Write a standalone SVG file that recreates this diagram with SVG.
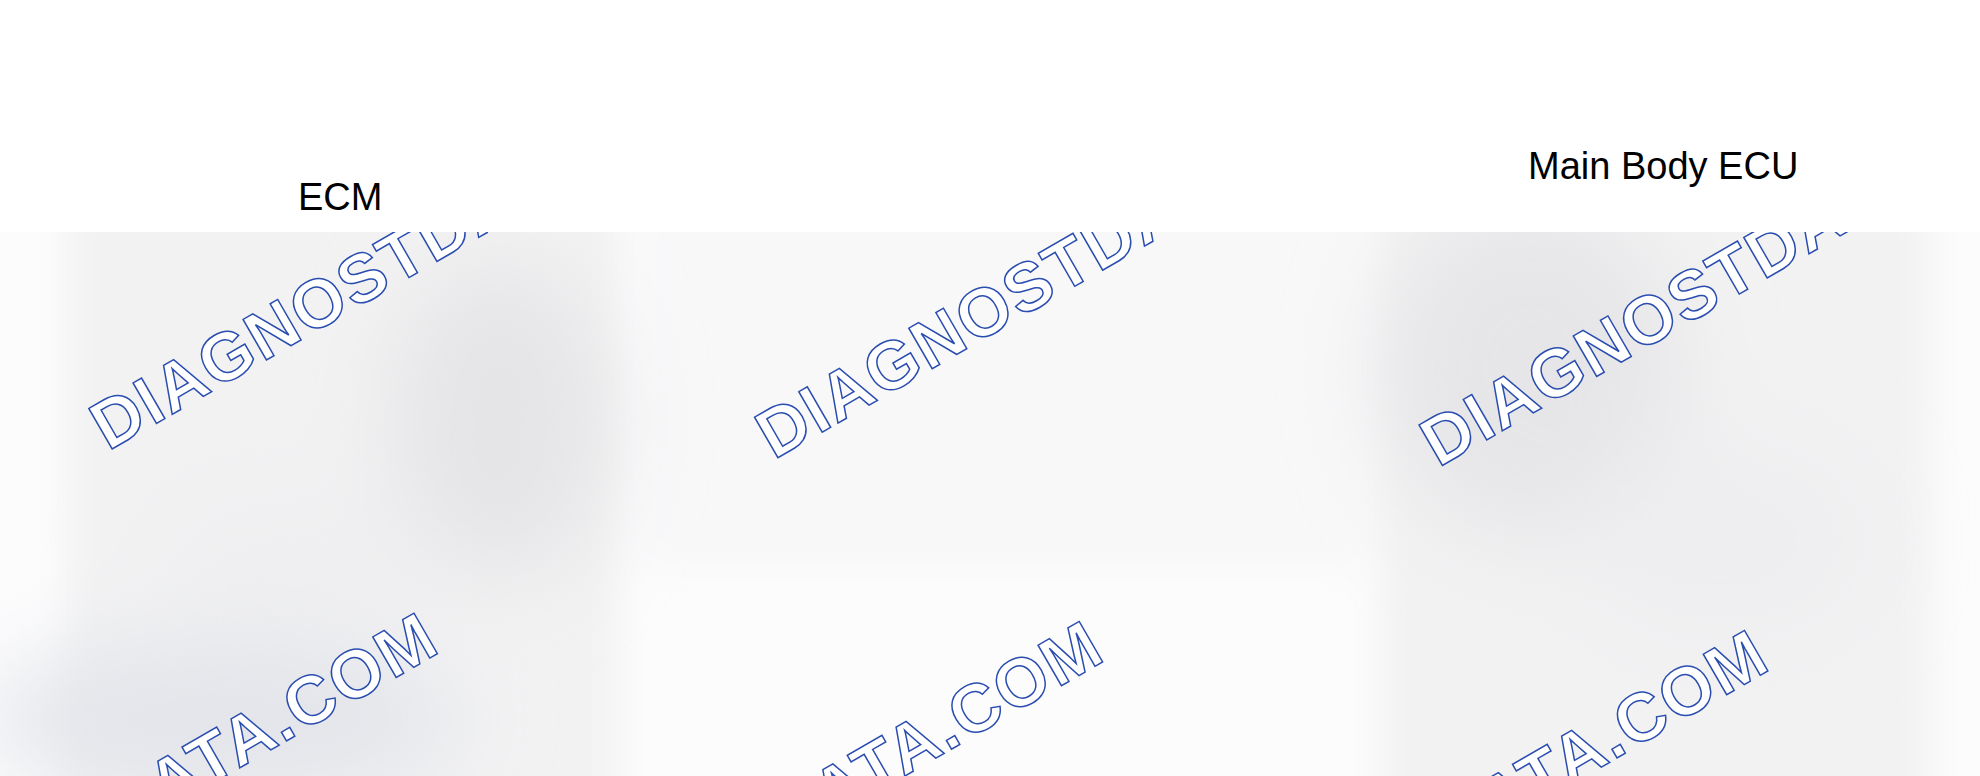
<svg xmlns="http://www.w3.org/2000/svg" width="1980" height="776" viewBox="0 0 1980 776">
  <defs>
    <filter id="blurEdge" x="-20%" y="-20%" width="140%" height="140%">
      <feGaussianBlur stdDeviation="18"/>
    </filter>
    <filter id="blurSoft" x="-50%" y="-50%" width="200%" height="200%">
      <feGaussianBlur stdDeviation="45"/>
    </filter>
  </defs>
  <style>
    .label { font-family: "Liberation Sans", Arial, sans-serif; font-size: 38px; fill: #000000; }
    .wm { font-family: "Liberation Sans", Arial, sans-serif; font-weight: bold; font-size: 68px; letter-spacing: 2px; fill: #ffffff; stroke: #2a4db0; stroke-width: 1.5px; }
  </style>

  <rect x="0" y="0" width="1980" height="776" fill="#ffffff"/>

  <g id="background">
    <rect x="0" y="232" width="1980" height="544" fill="#fcfcfd"/>
    <g filter="url(#blurEdge)">
      <rect x="66" y="200" width="552" height="620" fill="#f2f2f3"/>
      <rect x="1380" y="200" width="552" height="620" fill="#f2f2f3"/>
      <rect x="640" y="200" width="730" height="370" fill="#f8f8f9"/>
    </g>
    <g filter="url(#blurSoft)">
      <ellipse cx="500" cy="420" rx="110" ry="160" fill="#e5e5e7"/>
      <ellipse cx="300" cy="560" rx="150" ry="70" fill="#efeff1"/>
      <ellipse cx="220" cy="720" rx="240" ry="80" fill="#e3e5ea"/>
      <ellipse cx="1530" cy="370" rx="150" ry="170" fill="#e6e6e8"/>
      <ellipse cx="1720" cy="540" rx="150" ry="100" fill="#eeeef0"/>
    </g>
  </g>

  <g id="watermarks">
    <text class="wm" transform="translate(108.3 451.2) rotate(-30)">DIAGNOSTDATA.COM</text>
    <text class="wm" transform="translate(-204 1024) rotate(-30)">DIAGNOSTDATA.COM</text>
    <text class="wm" transform="translate(774.1 460) rotate(-30)">DIAGNOSTDATA.COM</text>
    <text class="wm" transform="translate(461.1 1032.4) rotate(-30)">DIAGNOSTDATA.COM</text>
    <text class="wm" transform="translate(1438.5 467.7) rotate(-30)">DIAGNOSTDATA.COM</text>
    <text class="wm" transform="translate(1126.5 1041.2) rotate(-30)">DIAGNOSTDATA.COM</text>
  </g>

  <rect id="top-band" x="0" y="0" width="1980" height="232" fill="#ffffff"/>

  <g id="node-ecm">
    <text class="label" x="298" y="210">ECM</text>
  </g>
  <g id="node-main-body-ecu">
    <text class="label" x="1528" y="179">Main Body ECU</text>
  </g>

  <g id="connectors"></g>
</svg>
